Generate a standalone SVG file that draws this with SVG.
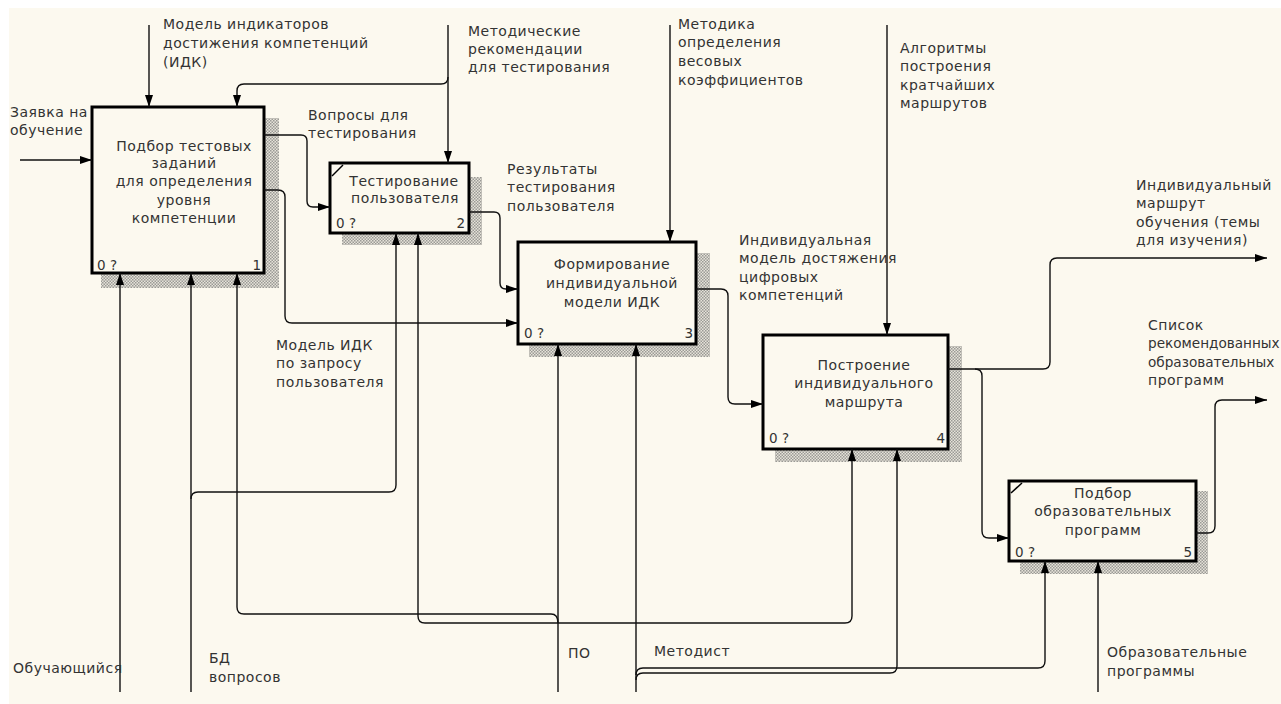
<svg xmlns="http://www.w3.org/2000/svg" width="1281" height="704" viewBox="0 0 1281 704">
<defs>
<style>
.t{font-family:"DejaVu Sans","Liberation Sans",sans-serif;font-size:14px;letter-spacing:0.5px;fill:#333}
.tn{letter-spacing:0;font-size:13.6px}
.c{text-anchor:middle}
.n{font-family:"DejaVu Sans","Liberation Sans",sans-serif;font-size:13.5px;fill:#333}
.e{text-anchor:end}
.box{fill:#fcf9ef;stroke:#000;stroke-width:3}
.sh{fill:url(#hatch)}
.ln{fill:none;stroke:#111;stroke-width:1.4}
.ar{marker-end:url(#ah)}
.dg{stroke:#000;stroke-width:1.5}
</style>
<pattern id="hatch" width="3" height="3" patternUnits="userSpaceOnUse">
<rect width="3" height="3" fill="#e6e3d9"/>
<rect x="0" y="0" width="1.5" height="1.5" fill="#9a9a96"/>
<rect x="1.5" y="1.5" width="1.5" height="1.5" fill="#9a9a96"/>
</pattern>
<marker id="ah" viewBox="0 0 12 8" refX="12" refY="4" markerWidth="12" markerHeight="8" markerUnits="userSpaceOnUse" orient="auto">
<path d="M0,0 L12,4 L0,8 z" fill="#000"/>
</marker>
</defs>
<rect x="0" y="0" width="1281" height="704" fill="#ffffff"/>
<rect x="9" y="8" width="1272" height="696" fill="#fcf9ef"/>

<g id="node1">
<rect class="sh" x="264" y="118" width="15" height="170"/>
<rect class="sh" x="101" y="273" width="178" height="15"/>
<rect class="box" x="92" y="107" width="172" height="166"/>
<text class="t c" x="184" y="151">Подбор тестовых</text>
<text class="t c" x="184" y="168">заданий</text>
<text class="t c" x="184" y="186">для определения</text>
<text class="t c" x="184" y="205">уровня</text>
<text class="t c" x="184" y="223">компетенции</text>
<text class="n" x="97" y="270">0 ?</text>
<text class="n e" x="261" y="270">1</text>
</g>

<g id="node2">
<rect class="sh" x="469" y="177" width="13" height="68"/>
<rect class="sh" x="342" y="233" width="140" height="12"/>
<rect class="box" x="330" y="163" width="139" height="70"/>
<line class="dg" x1="332" y1="176" x2="343" y2="165"/>
<text class="t c" x="404" y="186">Тестирование</text>
<text class="t c" x="405" y="203">пользователя</text>
<text class="n" x="336" y="228">0 ?</text>
<text class="n e" x="465" y="228">2</text>
</g>

<g id="node3">
<rect class="sh" x="696" y="253" width="14" height="104"/>
<rect class="sh" x="529" y="344" width="181" height="13"/>
<rect class="box" x="518" y="242" width="178" height="102"/>
<text class="t c" x="612" y="269">Формирование</text>
<text class="t c" x="612" y="288">индивидуальной</text>
<text class="t c" x="612" y="307">модели ИДК</text>
<text class="n" x="524" y="338">0 ?</text>
<text class="n e" x="693" y="338">3</text>
</g>

<g id="node4">
<rect class="sh" x="948" y="346" width="14" height="116"/>
<rect class="sh" x="775" y="449" width="187" height="13"/>
<rect class="box" x="763" y="335" width="185" height="114"/>
<text class="t c" x="864" y="370">Построение</text>
<text class="t c" x="864" y="388">индивидуального</text>
<text class="t c" x="864" y="407">маршрута</text>
<text class="n" x="769" y="443">0 ?</text>
<text class="n e" x="945" y="443">4</text>
</g>

<g id="node5">
<rect class="sh" x="1196" y="491" width="12" height="83"/>
<rect class="sh" x="1020" y="561" width="188" height="13"/>
<rect class="box" x="1009" y="481" width="187" height="80"/>
<line class="dg" x1="1011" y1="493" x2="1022" y2="483"/>
<text class="t c" x="1103" y="498">Подбор</text>
<text class="t c" x="1103" y="516">образовательных</text>
<text class="t c" x="1103" y="535">программ</text>
<text class="n" x="1015" y="557">0 ?</text>
<text class="n e" x="1192" y="557">5</text>
</g>

<g id="connectors">
<path class="ln ar" d="M20,160 H92"/>
<path class="ln ar" d="M149,25 V107"/>
<path class="ln ar" d="M448,25 V163"/>
<path class="ln ar" d="M448,77 Q448,84 441,84 H244 Q237,84 237,91 V107"/>
<path class="ln ar" d="M670,25 V242"/>
<path class="ln ar" d="M887,25 V335"/>
<path class="ln ar" d="M264,135 H301 Q307,135 307,141 V201 Q307,207 313,207 H330"/>
<path class="ln ar" d="M264,190 H278 Q285,190 285,197 V316 Q285,323 292,323 H518"/>
<path class="ln ar" d="M469,212 H494 Q500,212 500,218 V283 Q500,289 506,289 H518"/>
<path class="ln ar" d="M696,289 H721 Q728,289 728,296 V397 Q728,404 735,404 H763"/>
<path class="ln ar" d="M948,369 H1043 Q1050,369 1050,362 V265 Q1050,258 1057,258 H1267"/>
<path class="ln ar" d="M975,369 Q982,369 982,376 V531 Q982,538 989,538 H1009"/>
<path class="ln ar" d="M1196,533 H1208 Q1215,533 1215,526 V407 Q1215,400 1222,400 H1267"/>
<path class="ln ar" d="M120,692 V273"/>
<path class="ln ar" d="M191,692 V273"/>
<path class="ln ar" d="M191,499 Q191,492 198,492 H389 Q396,492 396,485 V233"/>
<path class="ln ar" d="M558,692 V344"/>
<path class="ln ar" d="M558,623 Q558,614 551,614 H244 Q237,614 237,607 V273"/>
<path class="ln ar" d="M558,623 H425 Q418,623 418,616 V233"/>
<path class="ln ar" d="M558,623 H845 Q852,623 852,616 V449"/>
<path class="ln ar" d="M636,692 V344"/>
<path class="ln ar" d="M636,675 Q636,668 643,668 H1038 Q1045,668 1045,661 V561"/>
<path class="ln ar" d="M636,680 Q636,673 643,673 H890 Q897,673 897,666 V449"/>
<path class="ln ar" d="M1098,692 V561"/>
</g>

<g id="labels">
<text class="t" x="10" y="117">Заявка на</text>
<text class="t" x="10" y="135">обучение</text>
<text class="t" x="163" y="29">Модель индикаторов</text>
<text class="t" x="163" y="48">достижения компетенций</text>
<text class="t" x="163" y="67">(ИДК)</text>
<text class="t" x="468" y="36">Методические</text>
<text class="t" x="468" y="54">рекомендации</text>
<text class="t" x="468" y="72">для тестирования</text>
<text class="t" x="678" y="29">Методика</text>
<text class="t" x="678" y="47">определения</text>
<text class="t" x="678" y="66">весовых</text>
<text class="t" x="678" y="85">коэффициентов</text>
<text class="t" x="900" y="53">Алгоритмы</text>
<text class="t" x="900" y="71">построения</text>
<text class="t" x="900" y="90">кратчайших</text>
<text class="t" x="900" y="108">маршрутов</text>
<text class="t" x="308" y="120">Вопросы для</text>
<text class="t" x="308" y="138">тестирования</text>
<text class="t" x="507" y="174">Результаты</text>
<text class="t" x="507" y="192">тестирования</text>
<text class="t" x="507" y="211">пользователя</text>
<text class="t" x="739" y="245">Индивидуальная</text>
<text class="t" x="739" y="263">модель достяжения</text>
<text class="t" x="739" y="282">цифровых</text>
<text class="t" x="739" y="300">компетенций</text>
<text class="t" x="1136" y="190">Индивидуальный</text>
<text class="t" x="1136" y="208">маршрут</text>
<text class="t" x="1136" y="227">обучения (темы</text>
<text class="t" x="1136" y="245">для изучения)</text>
<text class="t" x="276" y="350">Модель ИДК</text>
<text class="t" x="276" y="368">по запросу</text>
<text class="t" x="276" y="387">пользователя</text>
<text class="t" x="1148" y="330">Список</text>
<text class="t tn" x="1148" y="348">рекомендованных</text>
<text class="t tn" x="1148" y="367">образовательных</text>
<text class="t" x="1148" y="385">программ</text>
<text class="t" x="13" y="673">Обучающийся</text>
<text class="t" x="209" y="663">БД</text>
<text class="t" x="209" y="682">вопросов</text>
<text class="t" x="568" y="658">ПО</text>
<text class="t" x="654" y="656">Методист</text>
<text class="t" x="1107" y="657">Образовательные</text>
<text class="t" x="1107" y="676">программы</text>
</g>
</svg>
